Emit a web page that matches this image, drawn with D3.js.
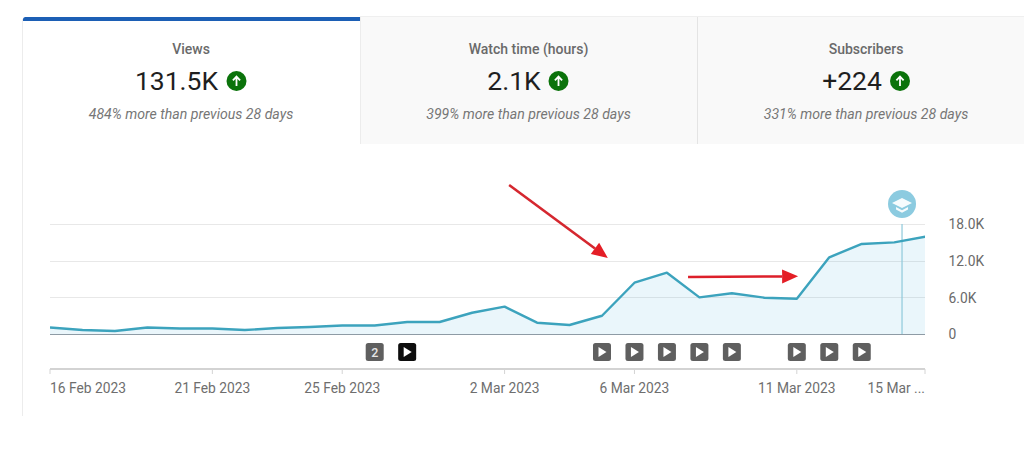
<!DOCTYPE html>
<html>
<head>
<meta charset="utf-8">
<script src="https://cdn.jsdelivr.net/npm/d3@7"></script>
<style>
  html, body { margin: 0; padding: 0; background: #fff; }
  svg { display: block; }
  text { font-family: Roboto, sans-serif; }
</style>
</head>
<body>
<svg id="chart" width="1024" height="450"></svg>
<script>
// Daily views, 16 Feb 2023 to 15 Mar 2023
const dayLabels = [
  "16 Feb","17 Feb","18 Feb","19 Feb","20 Feb","21 Feb","22 Feb","23 Feb","24 Feb","25 Feb",
  "26 Feb","27 Feb","28 Feb","1 Mar","2 Mar","3 Mar","4 Mar","5 Mar","6 Mar","7 Mar",
  "8 Mar","9 Mar","10 Mar","11 Mar","12 Mar","13 Mar","14 Mar","15 Mar"
];
const views = [
  1060, 650, 490, 1060, 900, 900, 650, 980, 1150, 1390,
  1400, 1960, 1960, 3480, 4470, 1850, 1470, 2990, 8390, 10030,
  6000, 6660, 5940, 5780, 12550, 14730, 15000, 15950
];

// Metric tabs along the top
const tabTitles = ["Views", "Watch time (hours)", "Subscribers"];
const tabValues = ["131.5K", "2.1K", "+224"];
const tabNotes = [
  "484% more than previous 28 days",
  "399% more than previous 28 days",
  "331% more than previous 28 days"
];

// Axis ticks
const yTicks = [0, 6000, 12000, 18000];
const yTickLabels = ["0", "6.0K", "12.0K", "18.0K"];
const xTickDays = [0, 5, 9, 14, 18, 23, 27];
const xTickLabels = ["16 Feb 2023", "21 Feb 2023", "25 Feb 2023", "2 Mar 2023", "6 Mar 2023", "11 Mar 2023", "15 Mar ..."];

// Video markers under the plot: day index, optional group count, highlighted state
const markerDays = [10, 11, 17, 18, 19, 20, 21, 23, 24, 25];
const markerCounts = ["2", "", "", "", "", "", "", "", "", ""];
const markerActive = [false, true, false, false, false, false, false, false, false, false];

// Milestone position in days from the start
const milestoneDay = 26.24;

// Hand-drawn callouts in chart units: [startDay, startViews, tipDay, tipViews]
const callouts = [
  [14.14, 24380, 17.18, 12440],
  [19.65, 9330, 23.04, 9430]
];

const svg = d3.select("#chart");
const plot = { left: 50, right: 925, top: 224, bottom: 334 };

// The last day sits just past the visible edge, so marks are clipped at plot.right
const x = d3.scaleLinear().domain([0, dayLabels.length - 1]).range([plot.left, 926.7]);
const y = d3.scaleLinear().domain([0, 18000]).range([plot.bottom, plot.top]);

svg.append("clipPath").attr("id", "plot-clip").append("rect")
  .attr("x", plot.left).attr("y", 0).attr("width", plot.right - plot.left).attr("height", plot.bottom + 2);

// ---- Tabs ----
const tabs = [
  { x: 23, w: 337, cx: 191, valueX: 176.5, iconX: 236.5, fill: "#ffffff" },
  { x: 360, w: 338, cx: 528.5, valueX: 514, iconX: 558.5, fill: "#f9f9f9" },
  { x: 698, w: 326, cx: 866, valueX: 852, iconX: 900, fill: "#f9f9f9" }
];

svg.append("g").selectAll("rect").data(tabs).join("rect")
  .attr("x", d => d.x).attr("y", 17).attr("width", d => d.w).attr("height", 127)
  .attr("fill", d => d.fill);

svg.append("line").attr("x1", 360.5).attr("x2", 360.5).attr("y1", 17).attr("y2", 144).attr("stroke", "#ececec");
svg.append("line").attr("x1", 697.5).attr("x2", 697.5).attr("y1", 17).attr("y2", 144).attr("stroke", "#e4e4e4");
svg.append("line").attr("x1", 360).attr("x2", 1024).attr("y1", 16.5).attr("y2", 16.5).attr("stroke", "#efefef");
svg.append("line").attr("x1", 22.5).attr("x2", 22.5).attr("y1", 19).attr("y2", 416).attr("stroke", "#ececec");
svg.append("path").attr("d", "M23 21V19.5Q23 17 25.5 17H360V21Z").attr("fill", "#1c5fb5");

const tabGroups = svg.append("g").selectAll("g").data(tabs).join("g");
tabGroups.append("text")
  .attr("x", d => d.cx).attr("y", 54)
  .attr("text-anchor", "middle").attr("font-size", 14).attr("font-weight", 500).attr("fill", "#6a6a6a")
  .text((d, i) => tabTitles[i]);
tabGroups.append("text")
  .attr("x", d => d.valueX).attr("y", 90)
  .attr("text-anchor", "middle").attr("font-size", 26.5).attr("fill", "#1f1f1f")
  .text((d, i) => tabValues[i]);
tabGroups.append("text")
  .attr("x", d => d.cx).attr("y", 119)
  .attr("text-anchor", "middle").attr("font-size", 14.1).attr("font-style", "italic").attr("fill", "#767676")
  .text((d, i) => tabNotes[i]);

const upIcon = tabGroups.append("g").attr("transform", d => `translate(${d.iconX},81)`);
upIcon.append("circle").attr("r", 10).attr("fill", "#0b730b");
upIcon.append("path").attr("d", "M0 5V-4M-3.6 -0.6L0 -4.4L3.6 -0.6")
  .attr("fill", "none").attr("stroke", "#fff").attr("stroke-width", 1.8);

// ---- Plot ----
const gridTicks = yTicks.filter(t => t > 0);
svg.append("g").selectAll("line").data(gridTicks).join("line")
  .attr("x1", plot.left).attr("x2", plot.right)
  .attr("y1", d => Math.round(y(d)) + 0.5).attr("y2", d => Math.round(y(d)) + 0.5)
  .attr("stroke", "#e8e8e8");

const area = d3.area().x((d, i) => x(i)).y0(y(0)).y1(d => y(d));
const line = d3.line().x((d, i) => x(i)).y(d => y(d));

svg.append("path").datum(views).attr("d", area)
  .attr("clip-path", "url(#plot-clip)")
  .attr("fill", "#45aedb").attr("fill-opacity", 0.115);

svg.append("line")
  .attr("x1", x(milestoneDay)).attr("x2", x(milestoneDay))
  .attr("y1", y(18000)).attr("y2", y(0))
  .attr("stroke", "#8fc9da").attr("stroke-width", 1.2);

svg.append("line").attr("x1", plot.left).attr("x2", plot.right)
  .attr("y1", y(0) + 0.5).attr("y2", y(0) + 0.5).attr("stroke", "#8e9ba5").attr("stroke-width", 1.2);

svg.append("path").datum(views).attr("d", line)
  .attr("clip-path", "url(#plot-clip)")
  .attr("fill", "none").attr("stroke", "#3ca3bd").attr("stroke-width", 2.4).attr("stroke-linejoin", "round");

// Right-hand value axis
const yAxis = d3.axisRight(y).tickValues(yTicks)
  .tickFormat((d, i) => yTickLabels[i]).tickSize(0).tickPadding(0);
svg.append("g").attr("transform", "translate(948.5,0.4)").call(yAxis)
  .call(g => g.select(".domain").remove())
  .call(g => g.selectAll("text").attr("font-family", "Roboto, sans-serif").attr("font-size", 13.8).attr("fill", "#6a6a6a"));

// Milestone badge with a graduation cap
const badge = svg.append("g").attr("transform", `translate(${x(milestoneDay)},204)`);
badge.append("circle").attr("r", 14).attr("fill", "#8ccbe0");
badge.append("path").attr("d", "M0 -6L10 -1L0 4L-10 -1Z").attr("fill", "#fff").attr("fill-opacity", 0.92);
badge.append("path").attr("d", "M-6 3V5.4L0 8.8L6 5.4V3L0 6.2Z").attr("fill", "#fff").attr("fill-opacity", 0.92);

// Video markers
const markerY = 352;
const markers = svg.append("g").selectAll("g").data(markerDays).join("g")
  .attr("transform", d => `translate(${x(d)},${markerY})`);
markers.append("rect")
  .attr("x", -9).attr("y", -9).attr("width", 18).attr("height", 18).attr("rx", 2.5)
  .attr("fill", (d, i) => markerActive[i] ? "#0d0d0d" : "#5f5f5f");
markers.filter((d, i) => !markerCounts[i]).append("path")
  .attr("d", "M-3.5 -5L4.5 0L-3.5 5Z").attr("fill", "#fff");
markers.filter((d, i) => markerCounts[i]).append("text")
  .attr("text-anchor", "middle").attr("y", 4.5).attr("font-size", 12.5).attr("font-weight", 500).attr("fill", "#e6e6e6")
  .text(d => markerCounts[markerDays.indexOf(d)]);

// Time axis; the last tick stops at the visible edge
const axisY = 369;
const tickX = d => Math.min(x(d), plot.right);
svg.append("line").attr("x1", plot.left).attr("x2", plot.right)
  .attr("y1", axisY).attr("y2", axisY).attr("stroke", "#c4c4c4").attr("stroke-width", 1.6);
svg.append("g").selectAll("line").data(xTickDays).join("line")
  .attr("x1", tickX).attr("x2", tickX)
  .attr("y1", axisY).attr("y2", axisY + 5).attr("stroke", "#d4d4d4");
svg.append("g").selectAll("text").data(xTickDays).join("text")
  .attr("x", tickX).attr("y", 393)
  .attr("text-anchor", (d, i) => i === 0 ? "start" : i === xTickDays.length - 1 ? "end" : "middle")
  .attr("font-size", 13.8).attr("fill", "#6e6e6e")
  .text((d, i) => xTickLabels[i]);

// Red callout arrows
callouts.forEach(([d0, v0, d1, v1], i) => {
  const x0 = x(d0), y0 = y(v0), x1 = x(d1), y1 = y(v1);
  const angle = Math.atan2(y1 - y0, x1 - x0);
  const head = 16, half = 7;
  const bx = x1 - head * Math.cos(angle), by = y1 - head * Math.sin(angle);
  const color = i === 0 ? "#d5272f" : "#dd1f2a";
  svg.append("line").attr("x1", x0).attr("y1", y0).attr("x2", bx).attr("y2", by)
    .attr("stroke", color).attr("stroke-width", 2.6);
  svg.append("polygon")
    .attr("points", [
      [x1, y1],
      [bx - half * Math.sin(angle), by + half * Math.cos(angle)],
      [bx + half * Math.sin(angle), by - half * Math.cos(angle)]
    ].map(p => p.join(",")).join(" "))
    .attr("fill", "#e41e26");
});
</script>
</body>
</html>
